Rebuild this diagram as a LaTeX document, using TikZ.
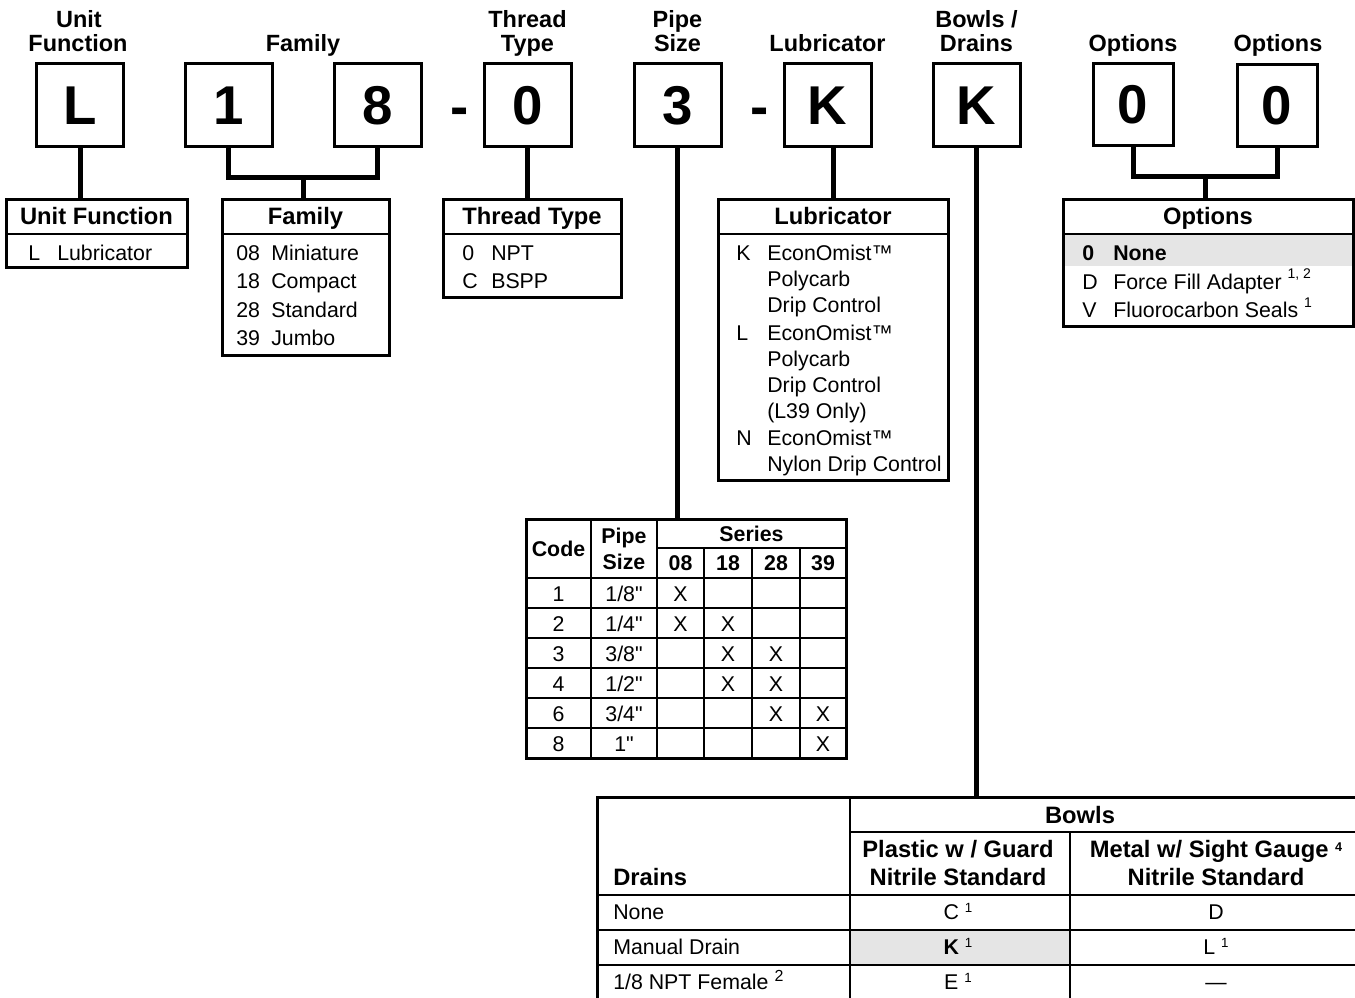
\documentclass[tikz,border=0pt]{standalone}
\usepackage{fontspec}
\setmainfont{Liberation Sans}[Ligatures=TeXOff]
\usetikzlibrary{fit}
\newcommand\fsz[1]{\fontsize{#1}{#1}\selectfont}
\newcommand\supx[3]{\raisebox{#1}{\fontsize{#2}{#2}\selectfont #3}}
\newcommand\inch{"}
\definecolor{hl}{gray}{0.9}
\begin{document}
\begin{tikzpicture}[x=0.75pt,y=-0.75pt,
  codebox/.style={draw, line width=2.25pt, minimum width=65.25pt, minimum height=62.25pt, inner sep=0pt, font=\fsz{41}\bfseries},
  optbox/.style={codebox, minimum width=60pt, minimum height=61.5pt},
  conn/.style={line width=3.75pt, line cap=butt, line join=miter},
  tframe/.style={draw, line width=2.25pt, inner sep=0pt},
  tline/.style={line width=1.8pt},
  gridline/.style={line width=1.2pt},
  bline/.style={line width=1.6pt},
  lbl/.style={font=\fsz{17.6}\bfseries, inner sep=0pt, anchor=base},
  hdr/.style={font=\fsz{17.8}\bfseries, inner sep=0pt, anchor=base},
  txt/.style={font=\fsz{16}, inner sep=0pt, anchor=base west},
  btxt/.style={font=\fsz{16}\bfseries, inner sep=0pt, anchor=base west},
  ctxt/.style={font=\fsz{16}, inner sep=0pt, anchor=base},
  bhdr/.style={font=\fsz{16}\bfseries, inner sep=0pt, anchor=base},
  hyph/.style={font=\fsz{41}\bfseries, inner sep=0pt, anchor=base}
]
\useasboundingbox (0,0) rectangle (1355,998);
\fill[white] (0,0) rectangle (1355,998);

% ---------- code boxes ----------
\node[codebox] (bL) at (80,105.5) {L};
\node[codebox] (b1) at (228.5,105.5) {1};
\node[codebox] (b8) at (377.5,105.5) {8};
\node[hyph] (d1) at (459.5,126) {-};
\node[codebox] (b0) at (527.5,105.5) {0};
\node[codebox] (b3) at (677.5,105.5) {3};
\node[hyph] (d2) at (759.5,126) {-};
\node[codebox] (bK) at (827.5,105.5) {K};
\node[codebox] (bB) at (976.5,105.5) {K};
\node[optbox] (bo1) at (1133,105) {0};
\node[optbox] (bo2) at (1277,106) {0};

% ---------- labels ----------
\node[lbl] (lU1) at (79,28) {Unit};
\node[lbl] (lU2) at (78,52) {Function};
\node[lbl] (lF) at (303,52) {Family};
\node[lbl] (lT1) at (527.5,28) {Thread};
\node[lbl] (lT2) at (527.5,52) {Type};
\node[lbl] (lP1) at (677.5,28) {Pipe};
\node[lbl] (lP2) at (677.5,52) {Size};
\node[lbl] (lL) at (827.5,52) {Lubricator};
\node[lbl] (lB1) at (976.5,28) {Bowls /};
\node[lbl] (lB2) at (976.5,52) {Drains};
\node[lbl] (lO1) at (1133,52) {Options};
\node[lbl] (lO2) at (1278,52) {Options};

% ---------- fills ----------
\fill[hl] (1063,234) rectangle (1353,266);
\fill[hl] (850,930) rectangle (1070,965);

% ---------- table frames ----------
\node[tframe, fit={(6,200) (187,268)}] (tUF) {};
\node[tframe, fit={(222,200) (389,355)}] (tFam) {};
\node[tframe, fit={(443,200) (621,298)}] (tThr) {};
\node[tframe, fit={(718,200) (948,480)}] (tLub) {};
\node[tframe, fit={(1063,200) (1353,327)}] (tOpt) {};
\node[tframe, fit={(526,519) (846,758)}] (tPipe) {};
\node[tframe, fit={(597,797) (1368,1015)}] (tBowl) {};

\draw[tline] (6,234) -- (187,234);
\draw[tline] (222,234) -- (389,234);
\draw[tline] (443,234) -- (621,234);
\draw[tline] (718,234) -- (948,234);
\draw[tline] (1063,234) -- (1353,234);

% ---------- connectors ----------
\coordinate (fj) at (303,178);
\coordinate (oj) at (1205,177);
\draw[conn] (bL.south) -- (bL.south |- tUF.north);
\draw[conn] (b1.south) |- (fj) -| (b8.south);
\draw[conn] (fj) -- (fj |- tFam.north);
\draw[conn] (b0.south) -- (b0.south |- tThr.north);
\draw[conn] (b3.south) -- (b3.south |- tPipe.north);
\draw[conn] (bK.south -| tLub.north) -- (tLub.north);
\draw[conn] (bB.south) -- (bB.south |- tBowl.north);
\draw[conn] (bo1.south) |- (oj) -| (bo2.south);
\draw[conn] (oj) -- (oj |- tOpt.north);

% ---------- Unit Function ----------
\node[hdr] (hUF) at (96.5,225) {Unit Function};
\node[txt] (uc1) at (28,261) {L};
\node[txt] (un1) at (57,261) {Lubricator};

% ---------- Family ----------
\node[hdr] (hFam) at (305.5,225) {Family};
\node[txt] (fc1) at (236,261) {08};
\node[txt] (fn1) at (271,261) {Miniature};
\node[txt] (fc2) at (236,289) {18};
\node[txt] (fn2) at (271,289) {Compact};
\node[txt] (fc3) at (236,317) {28};
\node[txt] (fn3) at (271,317) {Standard};
\node[txt] (fc4) at (236,345) {39};
\node[txt] (fn4) at (271,345) {Jumbo};

% ---------- Thread Type ----------
\node[hdr] (hThr) at (532,225) {Thread Type};
\node[txt] (tc1) at (462,261) {0};
\node[txt] (tn1) at (491,261) {NPT};
\node[txt] (tc2) at (462,289) {C};
\node[txt] (tn2) at (491,289) {BSPP};

% ---------- Lubricator ----------
\node[hdr] (hLub) at (833,225) {Lubricator};
\node[txt] (lc1) at (736,261) {K};
\node[txt] (ln1) at (767,261) {EconOmist™};
\node[txt] (ln2) at (767,287) {Polycarb};
\node[txt] (ln3) at (767,313) {Drip Control};
\node[txt] (lc2) at (736,340) {L};
\node[txt] (ln4) at (767,340) {EconOmist™};
\node[txt] (ln5) at (767,366) {Polycarb};
\node[txt] (ln6) at (767,392) {Drip Control};
\node[txt] (ln7) at (767,418) {(L39 Only)};
\node[txt] (lc3) at (736,445) {N};
\node[txt] (ln8) at (767,445) {EconOmist™};
\node[txt] (ln9) at (767,471) {Nylon Drip Control};

% ---------- Options ----------
\node[hdr] (hOpt) at (1208,225) {Options};
\node[btxt] (oc1) at (1082,261) {0};
\node[btxt] (on1) at (1113,261) {None};
\node[txt] (oc2) at (1082,289.5) {D};
\node[txt] (on2) at (1113,289.5) {Force Fill Adapter \supx{8.5pt}{10.5}{1, 2}};
\node[txt] (oc3) at (1082,318) {V};
\node[txt] (on3) at (1113,318) {Fluorocarbon Seals \supx{7.5pt}{10.5}{1}};

% ---------- Pipe size table ----------
\draw[gridline] (591,519) -- (591,758);
\draw[gridline] (657,519) -- (657,758);
\draw[gridline] (704,548) -- (704,758);
\draw[gridline] (752,548) -- (752,758);
\draw[gridline] (800,548) -- (800,758);
\draw[gridline] (657,548) -- (846,548);
\draw[bline] (526,578) -- (846,578);
\foreach \yy in {608,638,668,698,728} \draw[gridline] (526,\yy) -- (846,\yy);

\node[bhdr] (pCode) at (558.5,556) {Code};
\node[bhdr] (pPipe) at (624,543) {Pipe};
\node[bhdr] (pSize) at (624,569) {Size};
\node[bhdr] (pSer) at (751.5,541) {Series};
\node[bhdr] (p08) at (680.5,570) {08};
\node[bhdr] (p18) at (728,570) {18};
\node[bhdr] (p28) at (776,570) {28};
\node[bhdr] (p39) at (823,570) {39};

\node[ctxt] (pc1) at (558.5,601.5) {1};
\node[ctxt] (ps1) at (624,601.5) {1/8\inch};
\node[ctxt] (px11) at (680.5,601.5) {X};
\node[ctxt] (pc2) at (558.5,631.5) {2};
\node[ctxt] (ps2) at (624,631.5) {1/4\inch};
\node[ctxt] (px21) at (680.5,631.5) {X};
\node[ctxt] (px22) at (728,631.5) {X};
\node[ctxt] (pc3) at (558.5,661.5) {3};
\node[ctxt] (ps3) at (624,661.5) {3/8\inch};
\node[ctxt] (px32) at (728,661.5) {X};
\node[ctxt] (px33) at (776,661.5) {X};
\node[ctxt] (pc4) at (558.5,691.5) {4};
\node[ctxt] (ps4) at (624,691.5) {1/2\inch};
\node[ctxt] (px42) at (728,691.5) {X};
\node[ctxt] (px43) at (776,691.5) {X};
\node[ctxt] (pc5) at (558.5,721.5) {6};
\node[ctxt] (ps5) at (624,721.5) {3/4\inch};
\node[ctxt] (px53) at (776,721.5) {X};
\node[ctxt] (px54) at (823,721.5) {X};
\node[ctxt] (pc6) at (558.5,751.5) {8};
\node[ctxt] (ps6) at (624,751.5) {1\inch};
\node[ctxt] (px64) at (823,751.5) {X};

% ---------- Bowls / Drains table ----------
\draw[bline] (850,797) -- (850,1015);
\draw[bline] (1070,832) -- (1070,1015);
\draw[bline] (850,832) -- (1368,832);
\draw[bline] (597,895) -- (1368,895);
\draw[bline] (597,930) -- (1368,930);
\draw[bline] (597,965) -- (1368,965);

\node[hdr] (bwH) at (1080,823) {Bowls};
\node[hdr] (bp1) at (958,857) {Plastic w / Guard};
\node[hdr] (bp2) at (958,885) {Nitrile Standard};
\node[hdr] (bm1) at (1216,857) {Metal w/ Sight Gauge \supx{4pt}{9.5}{4}};
\node[hdr] (bm2) at (1216,885) {Nitrile Standard};
\node[hdr, anchor=base west] (bDr) at (613,885) {Drains};

\node[txt] (r1) at (613,919.5) {None};
\node[txt] (r2) at (613,954.5) {Manual Drain};
\node[txt] (r3) at (613,989) {1/8 NPT Female \supx{6pt}{12}{2}};
\node[ctxt] (c11) at (958,919.5) {C \supx{5pt}{10}{1}};
\node[ctxt] (c21) at (958,954.5) {\textbf{K} \supx{5pt}{10}{1}};
\node[ctxt] (c31) at (958,989) {E \supx{5pt}{10}{1}};
\node[ctxt] (c12) at (1216,919.5) {D};
\node[ctxt] (c22) at (1216,954.5) {L \supx{5pt}{10}{1}};
\node[ctxt] (c32) at (1216,989) {—};
\end{tikzpicture}
\end{document}
